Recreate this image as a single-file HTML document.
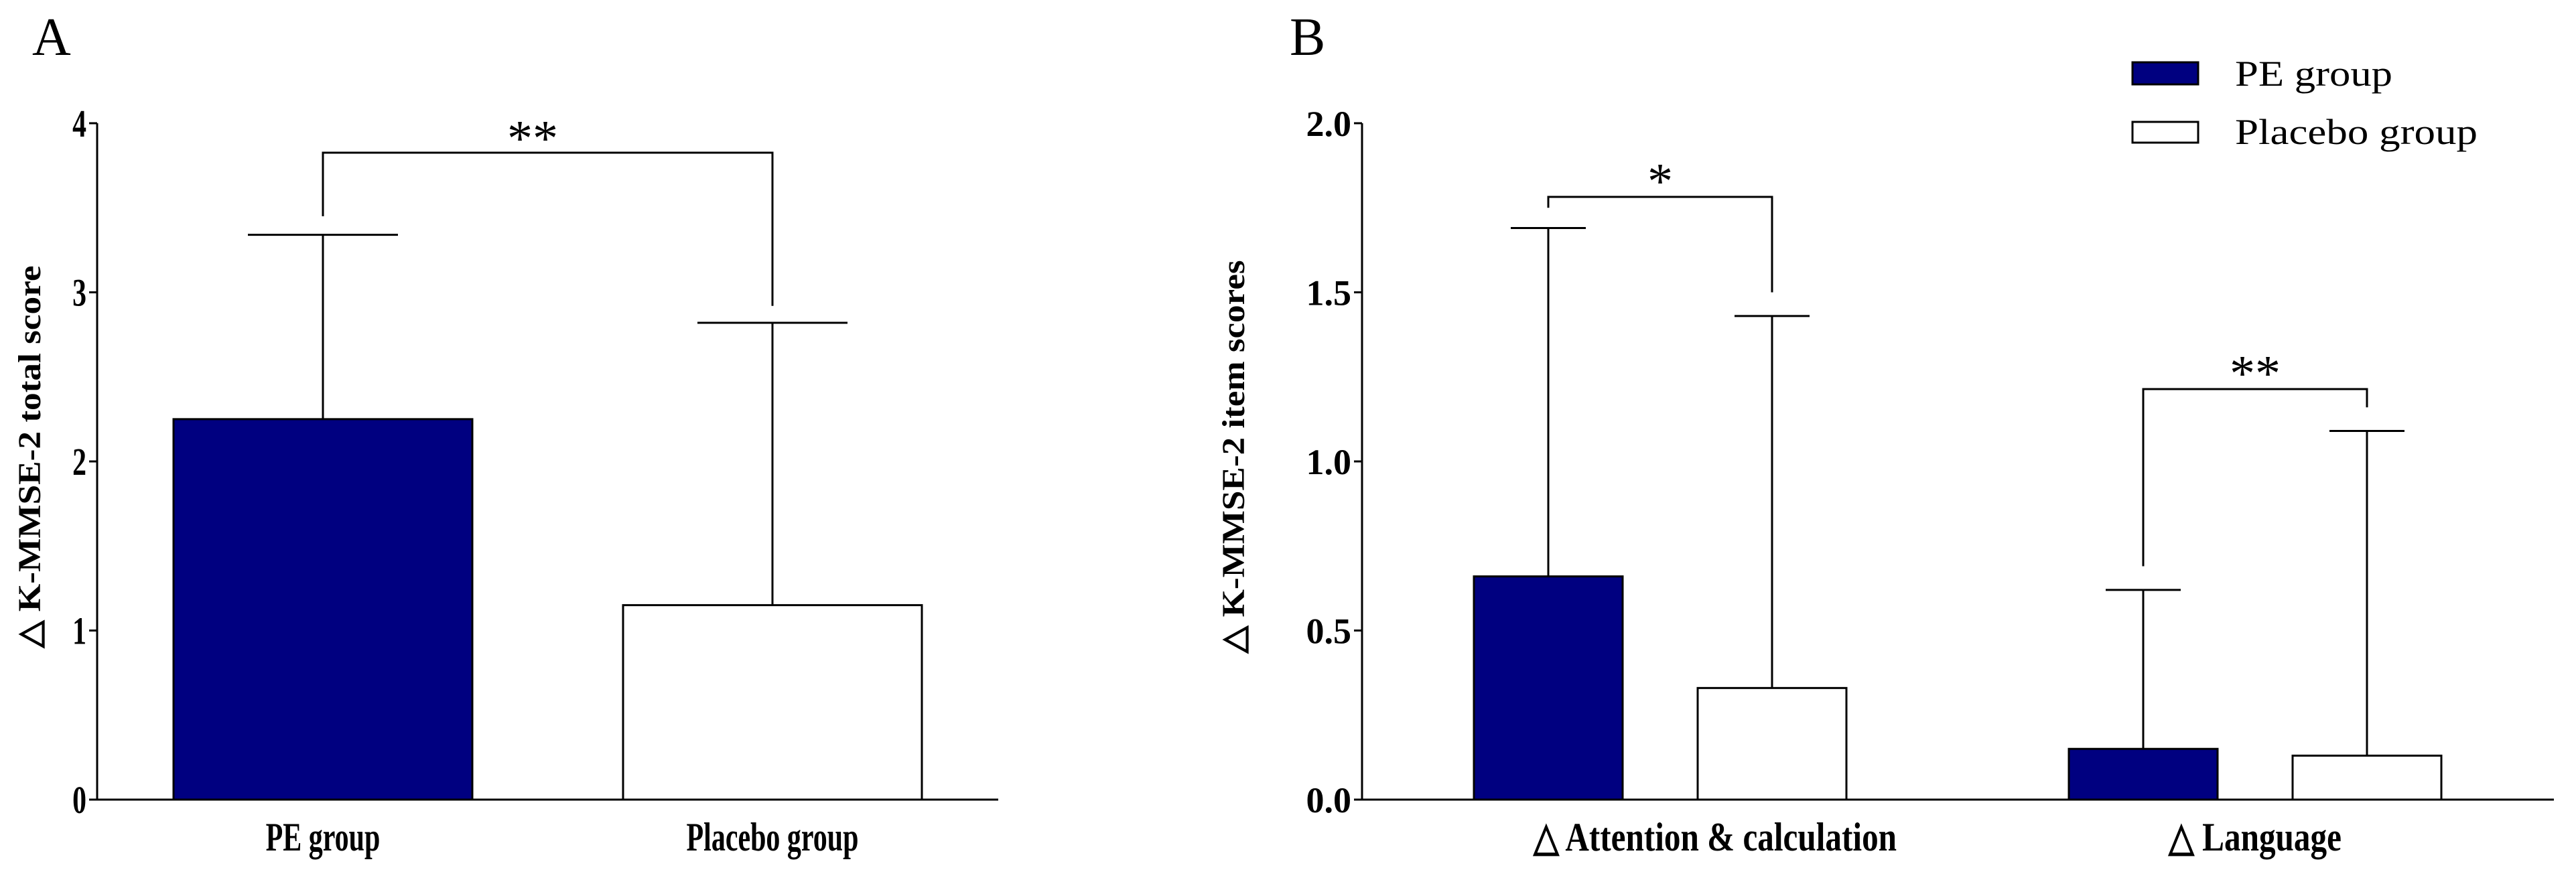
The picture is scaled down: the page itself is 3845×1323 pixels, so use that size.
<!DOCTYPE html>
<html><head><meta charset="utf-8"><style>
html,body{margin:0;padding:0;background:#fff;}
svg{display:block;}
text{font-family:"Liberation Serif",serif;fill:#000;}
</style></head><body>
<svg id="fig" width="3845" height="1323" viewBox="0 0 3845 1323" xmlns="http://www.w3.org/2000/svg">
<text x="48" y="82" font-size="80">A</text>
<text x="1925" y="82" font-size="80">B</text>
<g id="pa"></g>
<g id="pb"></g>
<g>
<rect x="3183" y="93" width="98" height="33" fill="#000080" stroke="#000" stroke-width="3"/>
<text x="3336" y="128" font-size="54" textLength="235" lengthAdjust="spacingAndGlyphs">PE group</text>
<rect x="3183" y="182" width="98" height="31" fill="#fff" stroke="#000" stroke-width="3"/>
<text x="3336" y="215" font-size="54" textLength="362" lengthAdjust="spacingAndGlyphs">Placebo group</text>
</g>
</svg>
<script>
// Panel A data
const aCategories = ["PE group", "Placebo group"];
const aMeans = [2.25, 1.15];
const aErrTop = [3.34, 2.82];
const aTicks = ["0", "1", "2", "3", "4"];
// Panel B data
const bCategories = ["△ Attention & calculation", "△ Language"];
const bPE = [0.66, 0.15];
const bPlacebo = [0.33, 0.13];
const bPEErrTop = [1.69, 0.62];
const bPlaceboErrTop = [1.43, 1.09];
const bTicks = ["0.0", "0.5", "1.0", "1.5", "2.0"];

const NS = "http://www.w3.org/2000/svg";
function mk(parent, tag, attrs, txt) {
  const e = document.createElementNS(NS, tag);
  for (const k in attrs) e.setAttribute(k, attrs[k]);
  if (txt !== undefined) e.textContent = txt;
  parent.appendChild(e);
  return e;
}
const Y0 = 1194, YTOP = 184;

// ---------- Panel A ----------
const pa = document.getElementById('pa');
const yA = v => Y0 - (Y0 - YTOP) * v / 4;
const axA = 145;
let e = mk(pa, 'line', {x1: axA, y1: YTOP, x2: axA, y2: Y0 + 1.5, stroke: '#000', 'stroke-width': 3});


e = mk(pa, 'line', {x1: axA, y1: Y0, x2: 1490, y2: Y0, stroke: '#000', 'stroke-width': 3});


aTicks.forEach((t, i) => {
  const y = yA(i);
  mk(pa, 'line', {x1: axA - 12, y1: y, x2: axA, y2: y, stroke: '#000', 'stroke-width': 3});
  const tx = mk(pa, 'text', {x: 0, y: 0, 'font-size': 58, 'font-weight': 'bold', 'text-anchor': 'end', transform: `translate(${axA - 16},${y + 20}) scale(0.72,1)`}, t);
  
  
});
const aCenters = [482, 1153];
const aBarW = 446;
aCategories.forEach((c, i) => {
  const cx = aCenters[i];
  const top = yA(aMeans[i]);
  const et = yA(aErrTop[i]);
  const el = mk(pa, 'line', {x1: cx, y1: et, x2: cx, y2: top, stroke: '#000', 'stroke-width': 3});
  
  
  mk(pa, 'line', {x1: cx - 112, y1: et, x2: cx + 112, y2: et, stroke: '#000', 'stroke-width': 3});
  const r = mk(pa, 'rect', {x: cx - aBarW / 2, y: top, width: aBarW, height: Y0 - top, fill: i === 0 ? '#000080' : '#fff', stroke: '#000', 'stroke-width': 3});
  
  
  const lb = mk(pa, 'text', {x: 0, y: 0, 'font-size': 60, 'font-weight': 'bold', 'text-anchor': 'middle', transform: `translate(${cx},${1270}) scale(0.7,1)`}, c);
  
  
});
// bracket A
e = mk(pa, 'polyline', {points: `${aCenters[0]},${yA(aErrTop[0] + 0.11)} ${aCenters[0]},228 ${aCenters[1]},228 ${aCenters[1]},${yA(aErrTop[1] + 0.1)}`, fill: 'none', stroke: '#000', 'stroke-width': 3});


e = mk(pa, 'text', {x: 795, y: 232, 'font-size': 76, 'text-anchor': 'middle'}, '**');


e = mk(pa, 'text', {x: 0, y: 0, 'font-size': 48, 'font-weight': 'bold', 'text-anchor': 'middle', textLength: 571, lengthAdjust: 'spacingAndGlyphs', transform: 'translate(60,682) rotate(-90)'}, '△ K-MMSE-2 total score');



// ---------- Panel B ----------
const pb = document.getElementById('pb');
const yB = v => Y0 - (Y0 - YTOP) * v / 2;
const axB = 2033;
e = mk(pb, 'line', {x1: axB, y1: YTOP, x2: axB, y2: Y0 + 1.5, stroke: '#000', 'stroke-width': 3});


e = mk(pb, 'line', {x1: axB, y1: Y0, x2: 3812, y2: Y0, stroke: '#000', 'stroke-width': 3});


bTicks.forEach((t, i) => {
  const y = yB(i * 0.5);
  mk(pb, 'line', {x1: axB - 12, y1: y, x2: axB, y2: y, stroke: '#000', 'stroke-width': 3});
  const tx = mk(pb, 'text', {x: axB - 16, y: y + 19, 'font-size': 54, 'font-weight': 'bold', 'text-anchor': 'end'}, t);
  
  
});
const groupCenters = [2478, 3366];
const bBarW = 222, off = 167;
function bBar(cx, v, errTop, pe, name) {
  const top = yB(v), et = yB(errTop);
  const el = mk(pb, 'line', {x1: cx, y1: et, x2: cx, y2: top, stroke: '#000', 'stroke-width': 3});
  
  
  mk(pb, 'line', {x1: cx - 56, y1: et, x2: cx + 56, y2: et, stroke: '#000', 'stroke-width': 3});
  const r = mk(pb, 'rect', {x: cx - bBarW / 2, y: top, width: bBarW, height: Y0 - top, fill: pe ? '#000080' : '#fff', stroke: '#000', 'stroke-width': 3});
  
  
}
bCategories.forEach((c, i) => {
  const g = groupCenters[i];
  bBar(g - off, bPE[i], bPEErrTop[i], true, 'bar-pe-' + (i === 0 ? 'attention' : 'language'));
  bBar(g + off, bPlacebo[i], bPlaceboErrTop[i], false, 'bar-placebo-' + (i === 0 ? 'attention' : 'language'));
  const lb = mk(pb, 'text', {x: 0, y: 0, 'font-size': 60, 'font-weight': 'bold', 'text-anchor': 'middle', transform: `translate(${g + (i === 0 ? 82 : 0)},${1270}) scale(0.82,1)`}, c);
  
  
});
// brackets B
const brY = [294, 581];
const stars = ['*', '**'];
bCategories.forEach((c, i) => {
  const l = groupCenters[i] - off, r = groupCenters[i] + off;
  const lb = i === 0 ? yB(bPEErrTop[i] + 0.06) : yB(bPEErrTop[i] + 0.07);
  const rb = yB(bPlaceboErrTop[i] + 0.07);
  const p = mk(pb, 'polyline', {points: `${l},${lb} ${l},${brY[i]} ${r},${brY[i]} ${r},${rb}`, fill: 'none', stroke: '#000', 'stroke-width': 3});
  
  
  const s = mk(pb, 'text', {x: (l + r) / 2, y: brY[i] + 2, 'font-size': 76, 'text-anchor': 'middle'}, stars[i]);
  
  
});
e = mk(pb, 'text', {x: 0, y: 0, 'font-size': 48, 'font-weight': 'bold', 'text-anchor': 'middle', textLength: 587, lengthAdjust: 'spacingAndGlyphs', transform: 'translate(1857,682) rotate(-90)'}, '△ K-MMSE-2 item scores');


</script>
</body></html>
